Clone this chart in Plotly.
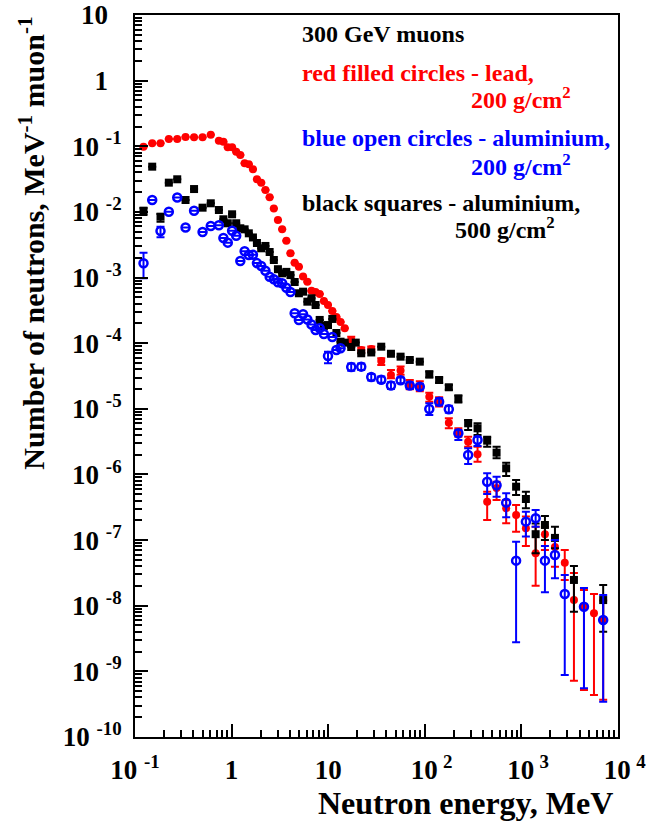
import plotly.graph_objects as go

# Neutron energy bin centres, MeV (shared by all three spectra)
energy = [0.1225, 0.1507, 0.1837, 0.224, 0.2737, 0.3336, 0.4087, 0.5006, 0.6087, 0.7387,
          0.8222, 0.913, 1.012, 1.116, 1.231, 1.364, 1.507, 1.663, 1.829, 2.026,
          2.24, 2.476, 2.737, 3.018, 3.337, 3.688, 4.067, 4.496, 4.971, 5.495,
          6.087, 6.713, 7.403, 8.164, 9.025, 9.95, 11.03, 12.16, 13.42, 14.83,
          17.31, 19.28, 21.98, 27.91, 35.41, 44.64, 56.14, 69.92, 88.77, 111.3,
          140.7, 177.3, 222.5, 281.0, 351.6, 442.2, 553.4, 695.8, 881.4, 1113,
          1404, 1752, 2225, 2810, 3499, 4444, 5640, 7024]

# Lead, 200 g/cm2
lead_y = [0.0986, 0.111, 0.111, 0.129, 0.129, 0.1385, 0.137, 0.137, 0.150, 0.1216,
          0.1174, 0.0964, 0.0964, 0.0827, 0.0737, 0.0550, 0.0531, 0.0446, 0.0314, 0.0279,
          0.0216, 0.0167, 0.01127, 0.00753, 0.00543, 0.00364, 0.00234, 0.00168, 0.00146, 0.00104,
          0.000865, 0.000631, 0.000603, 0.000562, 0.000440, 0.000382, 0.000309, 0.000251, 0.000210, 0.000169,
          1.119e-4, None, 7.88e-5, 8.16e-5, 5.36e-5, 3.28e-5, 3.84e-5, 2.31e-5, 2.17e-5, 1.53e-5,
          1.28e-5, 6.15e-6, 4.33e-6, 3.16e-6, 2.03e-6, 3.85e-7, 6.22e-7, 3.05e-7, 2.41e-7, 1.51e-7,
          6.30e-8, 1.23e-7, 7.86e-8, 4.53e-8, 1.22e-8, 9.67e-9, 7.67e-9, 6.07e-9]
lead_lo = [None] * 40 + [
          1.0e-4, None, 7.2e-5, 7.5e-5, 4.65e-5, 2.92e-5, 3.3e-5, 1.98e-5, 1.86e-5, 1.28e-5,
          1.08e-5, 5.05e-6, 3.76e-6, 2.65e-6, 1.56e-6, 2.03e-7, 4.09e-7, 1.81e-7, 1.34e-7, 8.13e-8,
          2.02e-8, 7.07e-8, 3.93e-8, 2.47e-8, 7.22e-10, 5.2e-10, 4.37e-10, 3.7e-10]
lead_hi = [None] * 40 + [
          1.25e-4, None, 8.6e-5, 8.9e-5, 5.89e-5, 3.91e-5, 4.4e-5, 2.76e-5, 2.64e-5, 1.76e-5,
          1.50e-5, 7.17e-6, 5.05e-6, 3.76e-6, 2.65e-6, 5.47e-7, 7.77e-7, 4.09e-7, 3.43e-7, 2.28e-7,
          1.6e-7, 1.58e-7, 1.0e-7, 7.07e-8, 3.16e-8, 1.74e-8, 1.51e-8, 1.2e-8]

# Aluminium, 200 g/cm2
al200_y = [0.00165, 0.01519, 0.00512, 0.01008, 0.01659, 0.00579, 0.01044, 0.00494, 0.00610, 0.00628,
           0.00401, 0.00340, 0.00516, 0.00434, 0.00179, 0.00251, 0.00221, 0.00222, 0.00166, 0.00150,
           0.00127, 0.00103, 0.000941, 0.000847, 0.000818, 0.000701, 0.000603, 0.000285, 0.000226, 0.000276,
           0.000230, 0.000193, 0.000159, 0.000169, 0.000138, 6.38e-5, 0.000124, 7.88e-5, 8.36e-5, None,
           4.34e-5, None, 4.39e-5, 3.06e-5, 2.78e-5, 2.27e-5, 2.72e-5, 2.27e-5, 2.17e-5, 9.94e-6,
           1.28e-5, 9.84e-6, 4.24e-6, 1.98e-6, 3.35e-6, 7.76e-7, 6.84e-7, 3.72e-7, 4.86e-8, 1.91e-7,
           2.15e-7, 4.86e-8, 5.93e-8, 1.51e-8, None, 9.67e-9, None, 6.07e-9]
al200_lo = [0.000974, None, 0.00411] + [None] * 32 + [
           4.94e-5, None, None, None, None, 3.8e-5, None, 3.9e-5, 2.7e-5, 2.5e-5,
           2.0e-5, 2.45e-5, 2.0e-5, 1.95e-5, 8.05e-6, 1.13e-5, 8.7e-6, 3.35e-6, 1.44e-6, 2.72e-6,
           5.04e-7, 4.59e-7, 2.23e-7, 2.78e-9, 1.13e-7, 1.60e-7, 1.60e-8, 2.62e-8, 8.8e-10, None,
           5.53e-10, None, 3.45e-10]
al200_hi = [0.00239, None, 0.00596] + [None] * 32 + [
           7.42e-5, None, None, None, None, 4.9e-5, None, 4.9e-5, 3.4e-5, 3.1e-5,
           2.55e-5, 3.0e-5, 2.55e-5, 2.4e-5, 1.215e-5, 1.45e-5, 1.11e-5, 4.76e-6, 2.51e-6, 3.76e-6,
           1.04e-6, 9.25e-7, 5.17e-7, 9.46e-8, 2.71e-7, 2.88e-7, 8.14e-8, 1.0e-7, 2.94e-8, None,
           1.87e-8, None, 1.46e-8]

# Aluminium, 500 g/cm2
al500_y = [0.01044, 0.0489, 0.00846, 0.0279, 0.0314, 0.01519, 0.0223, 0.0116, 0.01353, 0.0107,
           0.00772, 0.00671, 0.00920, 0.00671, 0.00563, 0.00543, 0.00472, 0.00408, 0.00336, 0.00279,
           0.00303, 0.00245, 0.00185, 0.00134, 0.00116, 0.00122, 0.00109, 0.000856, 0.000576, 0.000609,
           0.000429, 0.000483, 0.000382, 0.000226, 0.000183, 0.000189, 0.000234, 0.000143, 1.054e-4, 1.018e-4,
           8.75e-5, 1.02e-4, 7.02e-5, 7.22e-5, 8.84e-5, 6.90e-5, 6.23e-5, 5.55e-5, 5.23e-5, 3.36e-5,
           2.75e-5, 2.13e-5, 1.43e-5, 6.02e-6, 5.05e-6, 3.27e-6, 2.15e-6, 1.24e-6, 6.51e-7, 4.23e-7,
           1.23e-7, 1.70e-7, 1.08e-7, None, 2.47e-8, None, None, 1.22e-8]
al500_lo = [0.00898, None, 0.00710] + [None] * 46 + [
           3.0e-5, 2.5e-5, 1.95e-5, 1.25e-5, 4.76e-6, 3.99e-6, 2.65e-6, 1.76e-6, 9.48e-7, 4.87e-7,
           3.05e-7, 6.30e-8, 1.0e-7, 7.51e-8, None, 8.12e-9, None, None, 4.02e-9]
al500_hi = [0.01148, None, 0.00930] + [None] * 46 + [
           3.7e-5, 3.0e-5, 2.3e-5, 1.6e-5, 6.76e-6, 6.02e-6, 3.76e-6, 2.65e-6, 1.51e-6, 8.24e-7,
           5.47e-7, 1.79e-7, 2.33e-7, 1.60e-7, None, 4.03e-8, None, None, 2.07e-8]

# Axis tick values and their labels
NB = "\u00a0"
THIN = "\u2009"
x_tickvals = [0.1, 1, 10, 100, 1000, 10000]
x_ticktext = ["10 <sup>-1</sup>", "1", "10"] + [NB * 2 + "10" + THIN + "<sup>%d</sup>" % k for k in (2, 3, 4)]
y_tickvals = [10.0 ** k for k in range(-10, 2)]
y_ticktext = ["10 <sup>%d</sup>" % k for k in range(-10, 0)] + ["1" + NB * 2, "10" + NB * 2]

SERIF = "Times New Roman, Liberation Serif, Nimbus Roman, DejaVu Serif, serif"


def series(ys, lo, hi):
    xs, vs, up, dn = [], [], [], []
    for e, v, l, h in zip(energy, ys, lo, hi):
        if v is None:
            continue
        xs.append(e)
        vs.append(v)
        up.append((h - v) if h is not None else 0.0)
        dn.append((v - l) if l is not None else 0.0)
    return xs, vs, up, dn


fig = go.Figure()


def add(ys, lo, hi, color, symbol, size, line_w):
    xs, vs, up, dn = series(ys, lo, hi)
    fig.add_trace(go.Scatter(
        x=xs, y=vs, mode="markers",
        marker=dict(color=color, symbol=symbol, size=size,
                    line=dict(color=color, width=line_w)),
        error_y=dict(type="data", symmetric=False, array=up, arrayminus=dn,
                     color=color, thickness=2, width=4),
        showlegend=False, hoverinfo="x+y"))


add(lead_y, lead_lo, lead_hi, "#ff0000", "circle", 8, 0)
add(al500_y, al500_lo, al500_hi, "#000000", "square", 8, 0)
add(al200_y, al200_lo, al200_hi, "#0000ff", "circle-open", 8, 2.5)

axis_common = dict(
    showline=True, linecolor="black", linewidth=2, mirror=True,
    ticks="inside", ticklen=13, tickwidth=1.5, tickcolor="black",
    showgrid=False, zeroline=False, automargin=False, ticklabeloverflow="allow",
    tickfont=dict(family=SERIF, size=27, color="black", weight="bold"),
)

minor_vals = [m * 10.0 ** k for k in range(-10, 4) for m in range(2, 10)]

fig.update_xaxes(type="log", range=[-1, 4], tickmode="array",
                 tickvals=x_tickvals, ticktext=x_ticktext, ticklabelstandoff=8,
                 minor=dict(tickvals=[v for v in minor_vals if 0.1 < v < 1e4],
                            ticks="inside", ticklen=7, tickwidth=1.5, tickcolor="black"),
                 **axis_common)
fig.update_yaxes(type="log", range=[-10, 1], tickmode="array",
                 tickvals=y_tickvals, ticktext=y_ticktext, ticklabelstandoff=6,
                 minor=dict(tickvals=[v for v in minor_vals if 1e-10 < v < 10],
                            ticks="inside", ticklen=7, tickwidth=1.5, tickcolor="black"),
                 **axis_common)

annotations = [
    dict(text="Neutron energy, MeV", x=0.994, y=-0.0914, xanchor="right", yanchor="middle",
         font=dict(size=32, color="black")),
    dict(text="Number of neutrons, MeV<sup>-1</sup> muon<sup>-1</sup>", x=-0.215, y=1.0,
         xanchor="center", yanchor="top", textangle=-90, font=dict(size=30, color="black")),
    dict(text="300 GeV muons", x=0.3416, y=0.9737, xanchor="left", yanchor="middle",
         font=dict(size=24, color="black")),
    dict(text="red filled circles - lead,", x=0.3416, y=0.9197, xanchor="left", yanchor="middle",
         font=dict(size=24, color="#ff0000")),
    dict(text="200 g/cm<sup>2</sup>", x=0.907, y=0.8850, xanchor="right", yanchor="middle",
         font=dict(size=24, color="#ff0000")),
    dict(text="blue open circles - aluminium,", x=0.3416, y=0.8296, xanchor="left", yanchor="middle",
         font=dict(size=24, color="#0000ff")),
    dict(text="200 g/cm<sup>2</sup>", x=0.907, y=0.7922, xanchor="right", yanchor="middle",
         font=dict(size=24, color="#0000ff")),
    dict(text="black squares - aluminium,", x=0.3416, y=0.7396, xanchor="left", yanchor="middle",
         font=dict(size=24, color="black")),
    dict(text="500 g/cm<sup>2</sup>", x=0.874, y=0.7050, xanchor="right", yanchor="middle",
         font=dict(size=24, color="black")),
]
for a in annotations:
    a.update(xref="paper", yref="paper", showarrow=False)
    a["font"].update(family=SERIF, weight="bold")

fig.update_layout(
    width=647, height=827,
    margin=dict(l=135, r=29, t=15, b=90, autoexpand=False),
    paper_bgcolor="white", plot_bgcolor="white",
    font=dict(family=SERIF),
    annotations=annotations,
)

fig.write_html("out.html")
